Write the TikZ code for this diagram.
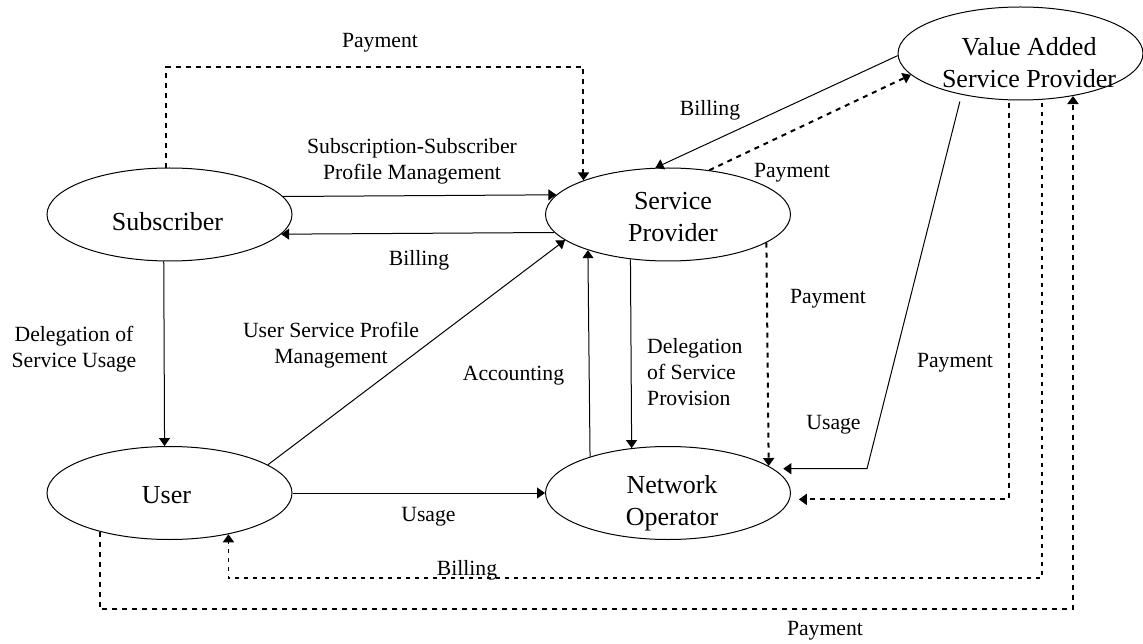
\documentclass[tikz,border=0pt]{standalone}
\usepackage{fontspec}
\setmainfont{Liberation Serif}
\usetikzlibrary{arrows.meta,shapes.geometric}

\begin{document}
\begin{tikzpicture}[x=1pt,y=-1pt,
  entity/.style={draw, ellipse, line width=1pt, minimum width=245pt,
                 minimum height=93pt, inner sep=0pt},
  nametext/.style={align=center, font=\fontsize{26}{32}\selectfont, inner sep=0pt},
  lbl/.style={align=center, font=\fontsize{21.7}{26}\selectfont, inner sep=0pt},
  tip/.style={-{Triangle[length=8pt,width=11pt]}},
  flow/.style={tip, line width=1pt},
  pay/.style={tip, line width=2pt, dash pattern=on 5pt off 5pt},
  paythin/.style={tip, line width=1.5pt, dash pattern=on 4pt off 5pt}
]
\useasboundingbox (0,0) rectangle (1143,644);

% parties
\node[entity, label={[nametext,xshift=-2pt,yshift=-7pt]center:Subscriber}] (sub) at (169.5,214.5) {};
\node[entity, label={[nametext,xshift=-3pt,yshift=-2pt]center:User}] (user) at (169.5,493) {};
\node[entity, label={[nametext,xshift=5pt,yshift=-3pt]center:{Service\\Provider}}] (sp) at (668,214.5) {};
\node[entity, label={[nametext,xshift=4pt,yshift=-10pt]center:{Network\\Operator}}] (no) at (668,493) {};
\node[entity, label={[nametext,xshift=8.5pt,yshift=-9.5pt]center:{Value Added\\Service Provider}}] (vasp) at (1020.5,53.5) {};

% routing helpers
\coordinate (toprow) at (0,67);
\coordinate (brow) at (0,578);
\coordinate (prow) at (0,609);
\coordinate (ubend) at (867,0);

% solid relations
\draw[flow] (sub.9.35) -- (sp.170.65);
\draw[flow] (sp.189.06) -- (sub.350.94);
\draw[flow] (sub.263.25) -- (user.96.75);
\draw[flow] (user.16) -- (sp.194.3);
\draw[flow] (user.east) -- (no.west);
\draw[flow] (no.155.8) -- (sp.204.2);
\draw[flow] (sp.230.1) -- (no.129.9);
\draw[flow] (vasp.181.6) -- (sp.105.7);
\draw[flow, shorten >=10pt, shorten <=7pt] (vasp.215.5) -- (ubend |- no.13.6) -- (no.13.6);

% payment and billing flows
\draw[pay] (sub.94.3) -- (sub.94.3 |- toprow) -| (sp.158.95);
\draw[pay] (sp.344.94) -- (no.15.06);
\draw[pay] (sp.47.7) -- (vasp.191);
\draw[pay, shorten >=9pt, shorten <=3pt] (vasp.256.05) -- (vasp.256.05 |- no.357.17) -- (no.357.17);
\draw[paythin, shorten <=3pt] (vasp.295.15) -- (vasp.295.15 |- brow) -| (user.325.04);
\draw[pay] (user.209.9) -- (user.209.9 |- prow) -| (vasp.321.34);

% labels
\node[lbl] (l1) at (380,43) {Payment};
\node[lbl] (l2) at (412,161) {Subscription-Subscriber\\Profile Management};
\node[lbl] (l3) at (419,260) {Billing};
\node[lbl] (l4) at (74,349) {Delegation of\\Service Usage};
\node[lbl] (l5) at (331,345) {User Service Profile\\Management};
\node[lbl] (l6) at (513.5,376) {Accounting};
\node[lbl, align=left, anchor=west] (l7) at (647,372) {Delegation\\of Service\\Provision};
\node[lbl] (l8) at (428.5,517) {Usage};
\node[lbl] (l9) at (710,110) {Billing};
\node[lbl] (l10) at (792,173) {Payment};
\node[lbl] (l11) at (828,299) {Payment};
\node[lbl] (l12) at (955,363) {Payment};
\node[lbl] (l13) at (833.5,425) {Usage};
\node[lbl] (l14) at (467,570) {Billing};
\node[lbl] (l15) at (825,631) {Payment};
\end{tikzpicture}
\end{document}
